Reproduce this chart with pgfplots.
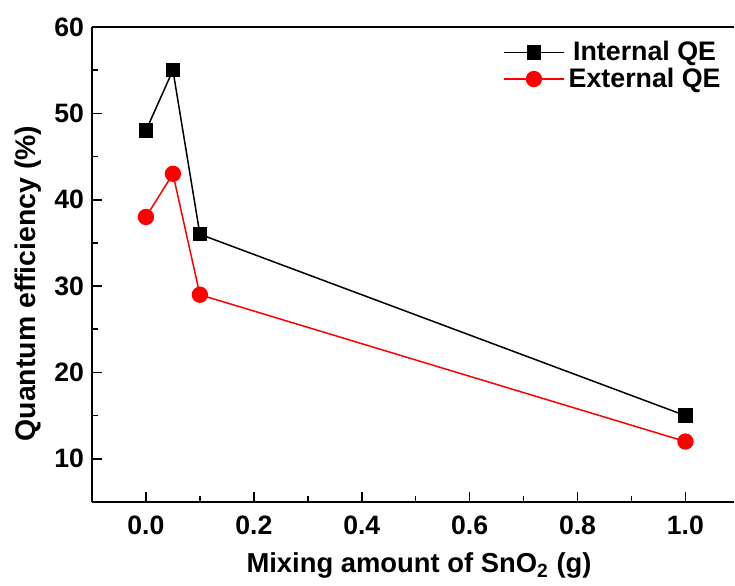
\documentclass[border=0pt]{standalone}
\usepackage{fontspec}
\setmainfont{Liberation Sans}
\usepackage{pgfplots}
\pgfplotsset{compat=1.18}
\begin{document}
\begin{tikzpicture}
\begin{axis}[
  name=ax,
  scale only axis,
  width=321pt, height=237.5pt,
  xmin=-0.1, xmax=1.09, ymin=5, ymax=60,
  axis x line=box, axis y line*=left,
  tick align=inside,
  xtick pos=bottom, ytick pos=left,
  xtick={0,0.2,0.4,0.6,0.8,1.0},
  ytick={10,20,30,40,50,60},
  minor tick num=1,
  major tick length=5pt, minor tick length=3pt,
  axis line style={line width=1pt},
  every tick/.style={line width=0.8pt, black},
  /pgf/number format/assume math mode=true,
  xticklabel style={/pgf/number format/fixed,/pgf/number format/fixed zerofill,/pgf/number format/precision=1, yshift=-3.2pt},
  yticklabel style={xshift=-0.5pt},
  ticklabel style={font=\fontsize{13.3}{15}\selectfont\bfseries},
  xlabel={Mixing amount of SnO\textsubscript{2} (g)},
  ylabel={Quantum efficiency (\%)},
  every axis x label/.style={at={(rel axis cs:0.5,0)}, anchor=base, yshift=-35.5pt, xshift=3pt, font=\fontsize{13.7}{15}\selectfont\bfseries},
  every axis y label/.style={at={(rel axis cs:0,0.5)}, rotate=90, anchor=center, yshift=32pt, xshift=-9.5pt, font=\fontsize{14.2}{15}\selectfont\bfseries},
  legend style={at={(rel axis cs:1,1)}, anchor=north east, xshift=-1.5pt, yshift=-3pt, draw=none, fill=none,
    font=\fontsize{13.4}{15}\selectfont\bfseries, row sep=-2pt},
  legend image code/.code={\draw[mark repeat=2,mark phase=2] plot coordinates {(0pt,0pt)(15pt,0pt)(30pt,0pt)};},
]
\addplot[black, line width=0.75pt, mark=square*, mark size=3.2pt, mark options={solid}]
  coordinates {(0,48) (0.05,55) (0.1,36) (1,15)};
\addlegendentry{Internal QE}
\addplot[red, line width=0.75pt, mark=*, mark size=3.7pt, mark options={solid}]
  coordinates {(0,38) (0.05,43) (0.1,29) (1,12)};
\addlegendentry{External QE}
\end{axis}
\path (ax.south west) ++(-46pt,-39.5pt) coordinate (bl);
\path (ax.north east) ++(0.5pt,13.5pt) coordinate (tr);
\path (bl) (tr);
\end{tikzpicture}
\end{document}
